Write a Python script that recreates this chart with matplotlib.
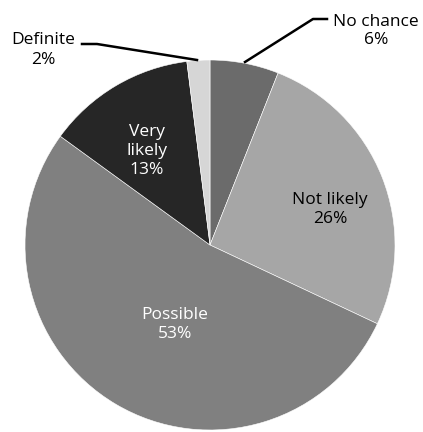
import numpy as np
import matplotlib.pyplot as plt

plt.rcParams['font.family'] = ['Open Sans', 'DejaVu Sans']

categories = ["No chance", "Not likely", "Possible", "Very likely", "Definite"]
shares = [6, 26, 53, 13, 2]
colors = ["#6b6b6b", "#a6a6a6", "#808080", "#262626", "#d6d6d6"]

fig = plt.figure(figsize=(4.23, 4.32), dpi=100)
R = 185
ax = fig.add_axes([(210 - R) / 423, (432 - 245 - R) / 432, 2 * R / 423, 2 * R / 432])

wedges, _ = ax.pie(shares, colors=colors, startangle=90, counterclock=False,
                   radius=1, wedgeprops=dict(edgecolor="white", linewidth=0.4))
ax.set_xlim(-1, 1)
ax.set_ylim(-1, 1)
ax.axis("off")

fs = 12.5
ls = 1.25
# inside labels
ax.text(-0.34, 0.51, "Very\nlikely\n13%", color="white", ha="center", va="center",
        fontsize=fs, linespacing=ls, clip_on=False)
ax.text(0.65, 0.19, "Not likely\n26%", color="black", ha="center", va="center",
        fontsize=fs, linespacing=ls, clip_on=False)
ax.text(-0.19, -0.43, "Possible\n53%", color="white", ha="center", va="center",
        fontsize=fs, linespacing=ls, clip_on=False)

# outside labels with leader lines
def px(x, y):
    return ((x - 210) / R, (245 - y) / R)

ax.plot(*zip(px(245, 62), px(313, 19), px(327, 19)), color="black", lw=1.8, clip_on=False)
ax.text(*px(376, 31), "No chance\n6%", ha="center", va="center", fontsize=fs,
        linespacing=ls, clip_on=False)
ax.plot(*zip(px(82, 44), px(97, 44), px(197, 60)), color="black", lw=1.8, clip_on=False)
ax.text(*px(43, 50), "Definite\n2%", ha="center", va="center", fontsize=fs,
        linespacing=ls, clip_on=False)

fig.savefig("out.png", dpi=100)
